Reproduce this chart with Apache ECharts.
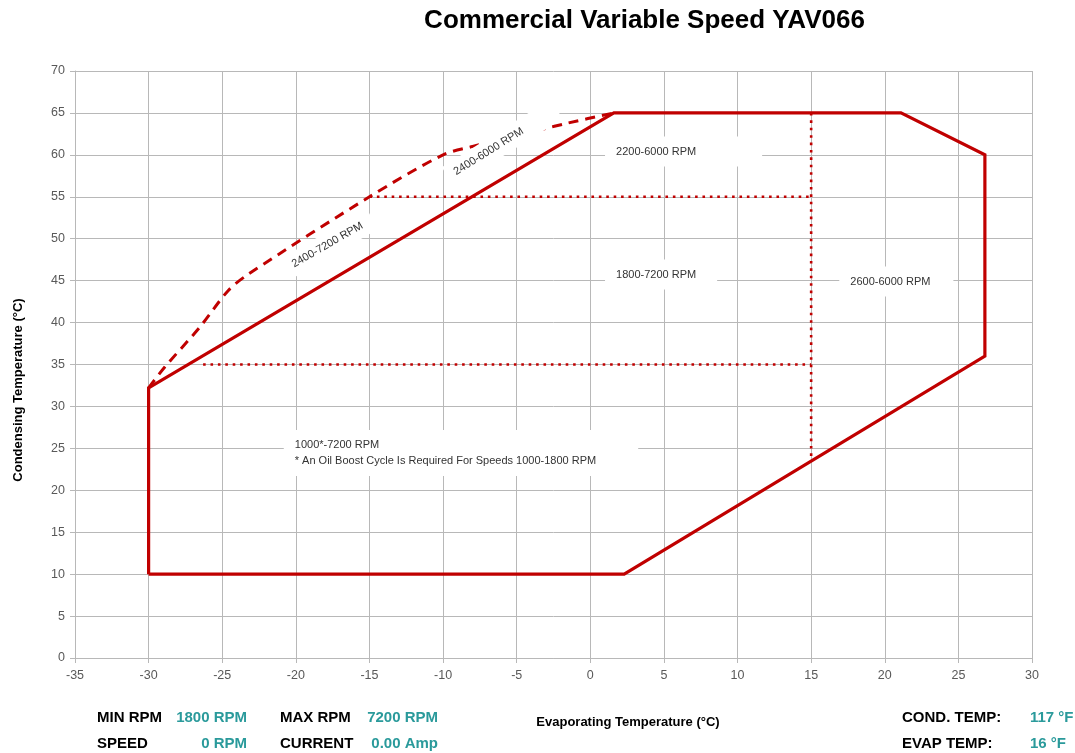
<!DOCTYPE html>
<html>
<head>
<meta charset="utf-8">
<script src="https://cdn.jsdelivr.net/npm/echarts@6/dist/echarts.min.js"></script>
<style>
html,body{margin:0;padding:0;background:#fff;}
#chart{width:1075px;height:753px;}
</style>
</head>
<body>
<div id="chart"></div>
<script>
// ---- data ----
const envelopeX = [-30, -30, 1.6, 21.1, 26.8, 26.8, 2.3, -30];
const envelopeY = [10, 32.2, 65, 65, 60, 36, 10, 10];

const dashX = [-30, -28.9, -26.5, -24.6, -23.2, -15, -10, -8, -5, -1.5, 1.6];
const dashY = [32.2, 34.7, 39.5, 43.8, 45.8, 55, 60, 61, 62.3, 63.8, 65];

const dot55X = [-15, 15];   const dot55Y = [55, 55];
const dot35X = [-26.3, 15]; const dot35Y = [35, 35];
const dot15X = [15, 15];    const dot15Y = [65, 23.6];

const regionText = ['2200-6000 RPM', '1800-7200 RPM', '2600-6000 RPM',
  '1000*-7200 RPM\n* An Oil Boost Cycle Is Required For Speeds 1000-1800 RPM',
  '2400-7200 RPM', '2400-6000 RPM'];
const regionX = [1.0, 1.0, 16.91, -20.82, -20.68, -9.67];
const regionY = [60.4, 45.73, 44.9, 24.45, 46.39, 57.36];
const regionRotate = [0, 0, 0, 0, 30, 32];

const xTicks = {min: -35, max: 30, step: 5};
const yTicks = {min: 0, max: 70, step: 5};

const infoLabels = ['MIN RPM', 'MAX RPM', 'SPEED', 'CURRENT', 'COND. TEMP:', 'EVAP TEMP:'];
const infoValues = ['1800 RPM', '7200 RPM', '0 RPM', '0.00 Amp', '117 °F', '16 °F'];

const titleText = 'Commercial Variable Speed YAV066';
const xName = 'Evaporating Temperature (°C)';
const yName = 'Condensing Temperature (°C)';

// ---- styles ----
const RED = '#c00000';
const TEAL = '#2a9a9b';
const GRID = '#b8b8b8';
const FONT = '"Liberation Sans", Arial, sans-serif';

const zip = (xs, ys) => xs.map((x, i) => [x, ys[i]]);

const paddings = [[9, 66, 8, 11], [9, 21, 8, 11], [9, 23, 8, 11], [7, 42, 7, 11], [5, 12, 5, 8], [5, 40, 5, 8]];
const labelData = regionText.map((t, i) => ({
  value: [regionX[i], regionY[i]],
  label: {
    formatter: t,
    rotate: regionRotate[i],
    padding: paddings[i],
    lineHeight: i === 3 ? 16 : 13
  }
}));

const chart = echarts.init(document.getElementById('chart'), null, {renderer: 'canvas'});

const dotStyle = {color: RED, width: 2.6, type: [2.6, 4.8], cap: 'butt'};

const infoPos = [
  {x: 97, y: 718, vx: 247, va: 'right'},
  {x: 280, y: 718, vx: 438, va: 'right'},
  {x: 97, y: 744, vx: 247, va: 'right'},
  {x: 280, y: 744, vx: 438, va: 'right'},
  {x: 902, y: 718, vx: 1030, va: 'left'},
  {x: 902, y: 744, vx: 1030, va: 'left'}
];
const graphics = [];
infoLabels.forEach((t, i) => {
  const p = infoPos[i];
  graphics.push({type: 'text', x: p.x, y: p.y, silent: true,
    style: {text: t, fill: '#000', font: 'bold 15px ' + FONT, textAlign: 'left', textVerticalAlign: 'middle'}});
  graphics.push({type: 'text', x: p.vx, y: p.y, silent: true,
    style: {text: infoValues[i], fill: TEAL, font: 'bold 15px ' + FONT, textAlign: p.va, textVerticalAlign: 'middle'}});
});
graphics.push({type: 'text', x: 644.5, y: 21, silent: true,
  style: {text: titleText, fill: '#000', font: 'bold 26px ' + FONT, textAlign: 'center', textVerticalAlign: 'middle'}});
graphics.push({type: 'text', x: 628, y: 722, silent: true,
  style: {text: xName, fill: '#000', font: 'bold 13px ' + FONT, textAlign: 'center', textVerticalAlign: 'middle'}});
graphics.push({type: 'text', x: 18, y: 390, rotation: Math.PI / 2, silent: true,
  style: {text: yName, fill: '#000', font: 'bold 13px ' + FONT, textAlign: 'center', textVerticalAlign: 'middle'}});

const option = {
  backgroundColor: '#fff',
  animation: false,
  grid: {left: 75, right: 43, top: 71, bottom: 95, containLabel: false},
  xAxis: {
    type: 'value', min: xTicks.min, max: xTicks.max, interval: xTicks.step,
    axisLine: {show: true, onZero: false, lineStyle: {color: GRID, width: 1}},
    axisTick: {show: true, length: 5, lineStyle: {color: GRID}},
    axisLabel: {color: '#595959', fontSize: 12.5, fontFamily: FONT, margin: 11},
    splitLine: {show: true, lineStyle: {color: GRID, width: 1}}
  },
  yAxis: {
    type: 'value', min: yTicks.min, max: yTicks.max, interval: yTicks.step,
    axisLine: {show: true, onZero: false, lineStyle: {color: GRID, width: 1}},
    axisTick: {show: true, length: 5, lineStyle: {color: GRID}},
    axisLabel: {color: '#595959', fontSize: 12.5, fontFamily: FONT, margin: 10},
    splitLine: {show: true, lineStyle: {color: GRID, width: 1}}
  },
  series: [
    {type: 'line', data: zip(envelopeX, envelopeY), symbol: 'none', silent: true,
     lineStyle: {color: RED, width: 3.2, join: 'miter'}, z: 3},
    {type: 'line', data: zip(dashX, dashY), symbol: 'none', smooth: 0.3, silent: true,
     lineStyle: {color: RED, width: 3, type: [10, 7]}, z: 3},
    {type: 'line', data: zip(dot55X, dot55Y), symbol: 'none', silent: true, lineStyle: dotStyle, z: 2},
    {type: 'line', data: zip(dot35X, dot35Y), symbol: 'none', silent: true, lineStyle: dotStyle, z: 2},
    {type: 'line', data: zip(dot15X, dot15Y), symbol: 'none', silent: true, lineStyle: dotStyle, z: 2},
    {type: 'scatter', data: labelData, symbolSize: 0, silent: true, z: 5,
     itemStyle: {opacity: 1},
     label: {show: true, position: 'inside', align: 'left', verticalAlign: 'middle', opacity: 1,
       color: '#333333', fontSize: 11, fontFamily: FONT, backgroundColor: '#ffffff'},
     emphasis: {disabled: true}}
  ],
  graphic: graphics
};
chart.setOption(option);
</script>
</body>
</html>
